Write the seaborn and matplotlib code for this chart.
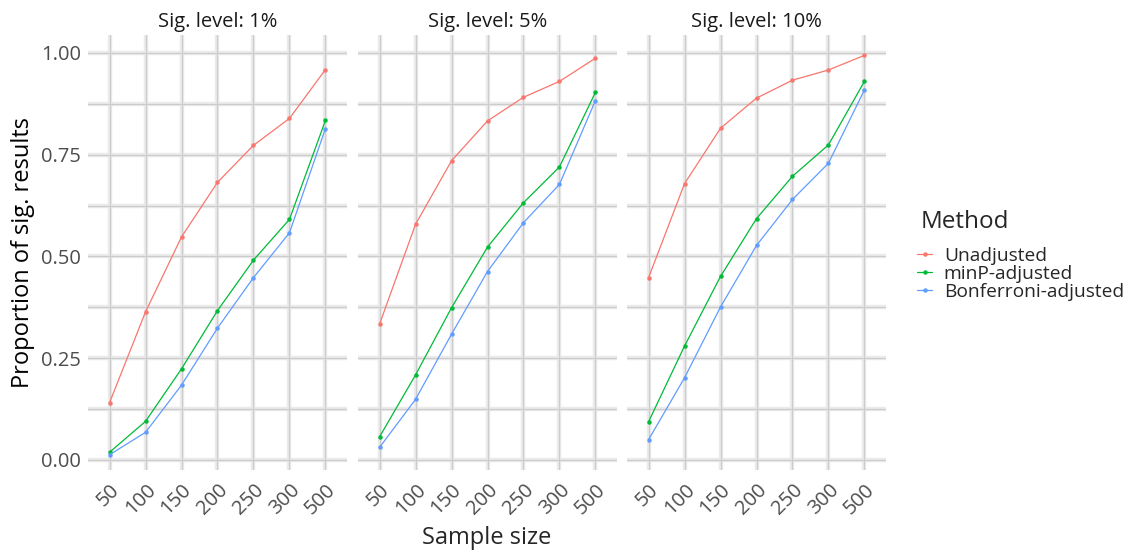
import numpy as np
import pandas as pd
import matplotlib
matplotlib.use("Agg")
import matplotlib.pyplot as plt
from matplotlib.lines import Line2D
import seaborn as sns

sns.set_style("white")
plt.rcParams['font.family'] = ['Open Sans', 'DejaVu Sans']

# data
sample_sizes = ["50", "100", "150", "200", "250", "300", "500"]
levels = ["Sig. level: 1%", "Sig. level: 5%", "Sig. level: 10%"]
methods = ["Unadjusted", "minP-adjusted", "Bonferroni-adjusted"]
colors = ["#F8766D", "#00BA38", "#619CFF"]

unadj_1 = [0.141, 0.364, 0.548, 0.682, 0.773, 0.839, 0.959]
minp_1 = [0.019, 0.095, 0.224, 0.367, 0.491, 0.591, 0.834]
bonf_1 = [0.013, 0.068, 0.184, 0.324, 0.448, 0.558, 0.814]

unadj_5 = [0.334, 0.579, 0.735, 0.833, 0.891, 0.930, 0.987]
minp_5 = [0.057, 0.209, 0.374, 0.523, 0.632, 0.720, 0.903]
bonf_5 = [0.031, 0.149, 0.309, 0.463, 0.583, 0.677, 0.883]

unadj_10 = [0.448, 0.679, 0.815, 0.889, 0.933, 0.958, 0.994]
minp_10 = [0.094, 0.280, 0.451, 0.593, 0.697, 0.774, 0.930]
bonf_10 = [0.050, 0.202, 0.376, 0.527, 0.640, 0.729, 0.909]

series = {
    levels[0]: [unadj_1, minp_1, bonf_1],
    levels[1]: [unadj_5, minp_5, bonf_5],
    levels[2]: [unadj_10, minp_10, bonf_10],
}

rows = []
for lev, vals in series.items():
    for m, v in zip(methods, vals):
        for i, (n, p) in enumerate(zip(sample_sizes, v)):
            rows.append({"level": lev, "method": m, "pos": i, "n": n, "prop": p})
df = pd.DataFrame(rows)

W, H = 1132, 552
fig = plt.figure(figsize=(W / 100, H / 100), dpi=100)

lefts = [88, 358, 627]
pw = 259
top, bottom = 35, 470
ymin, ymax = -0.0246, 1.044
yticks = [0, 0.25, 0.5, 0.75, 1.0]
ygrid = np.arange(0, 1.01, 0.125)

for k, lev in enumerate(levels):
    ax = fig.add_axes([lefts[k] / W, 1 - bottom / H, pw / W, (bottom - top) / H])
    for y in ygrid:
        ax.axhline(y, color="#ebebeb", lw=3.2, zorder=0)
        ax.axhline(y, color="#cccccc", lw=0.9, zorder=0.1)
    for x in range(len(sample_sizes)):
        ax.axvline(x, color="#ebebeb", lw=3.2, zorder=0)
        ax.axvline(x, color="#cccccc", lw=0.9, zorder=0.1)
    sub = df[df["level"] == lev]
    sns.lineplot(data=sub, x="pos", y="prop", hue="method", hue_order=methods,
                 palette=colors, marker="o", markersize=3.2, markeredgewidth=0,
                 linewidth=0.9, ax=ax, legend=False, zorder=3)
    ax.set_xlim(-0.6, len(sample_sizes) - 0.4)
    ax.set_ylim(ymin, ymax)
    ax.set_xticks(range(len(sample_sizes)))
    ax.set_xticklabels(sample_sizes, rotation=45, ha="right", va="top",
                       rotation_mode="anchor", fontsize=14.5, color="#4d4d4d")
    ax.tick_params(axis="x", length=0, pad=7)
    ax.set_yticks(yticks)
    if k == 0:
        ax.set_yticklabels(["0.00", "0.25", "0.50", "0.75", "1.00"], fontsize=14.5, color="#4d4d4d")
        ax.tick_params(axis="y", length=0, pad=5)
        ax.set_ylabel("Proportion of sig. results", fontsize=17, color="black", labelpad=4)
    else:
        ax.set_yticklabels([])
        ax.tick_params(axis="y", length=0)
        ax.set_ylabel("")
    ax.set_xlabel("")
    ax.set_title(lev, fontsize=14.5, color="#1a1a1a", pad=6)
    for s in ax.spines.values():
        s.set_visible(False)
    ax.set_facecolor("none")

fig.text((lefts[0] + lefts[2] + pw) / 2 / W, 1 - 538 / H, "Sample size",
         ha="center", va="center", fontsize=17)

# legend: title drawn separately so the gap to the entries matches
fig.text(921 / W, 1 - 222 / H, "Method", ha="left", va="center", fontsize=17.5)
handles = [Line2D([0], [0], color=c, lw=0.9, marker="o", markersize=3.2, markeredgewidth=0)
           for c in colors]
leg = fig.legend(handles, methods, loc="upper left",
                 bbox_to_anchor=(917 / W, 1 - 247 / H), frameon=False, borderpad=0,
                 fontsize=13.8, handlelength=0.8, borderaxespad=0,
                 handletextpad=0.6, labelspacing=0.0)

fig.savefig("out.png", dpi=100)
